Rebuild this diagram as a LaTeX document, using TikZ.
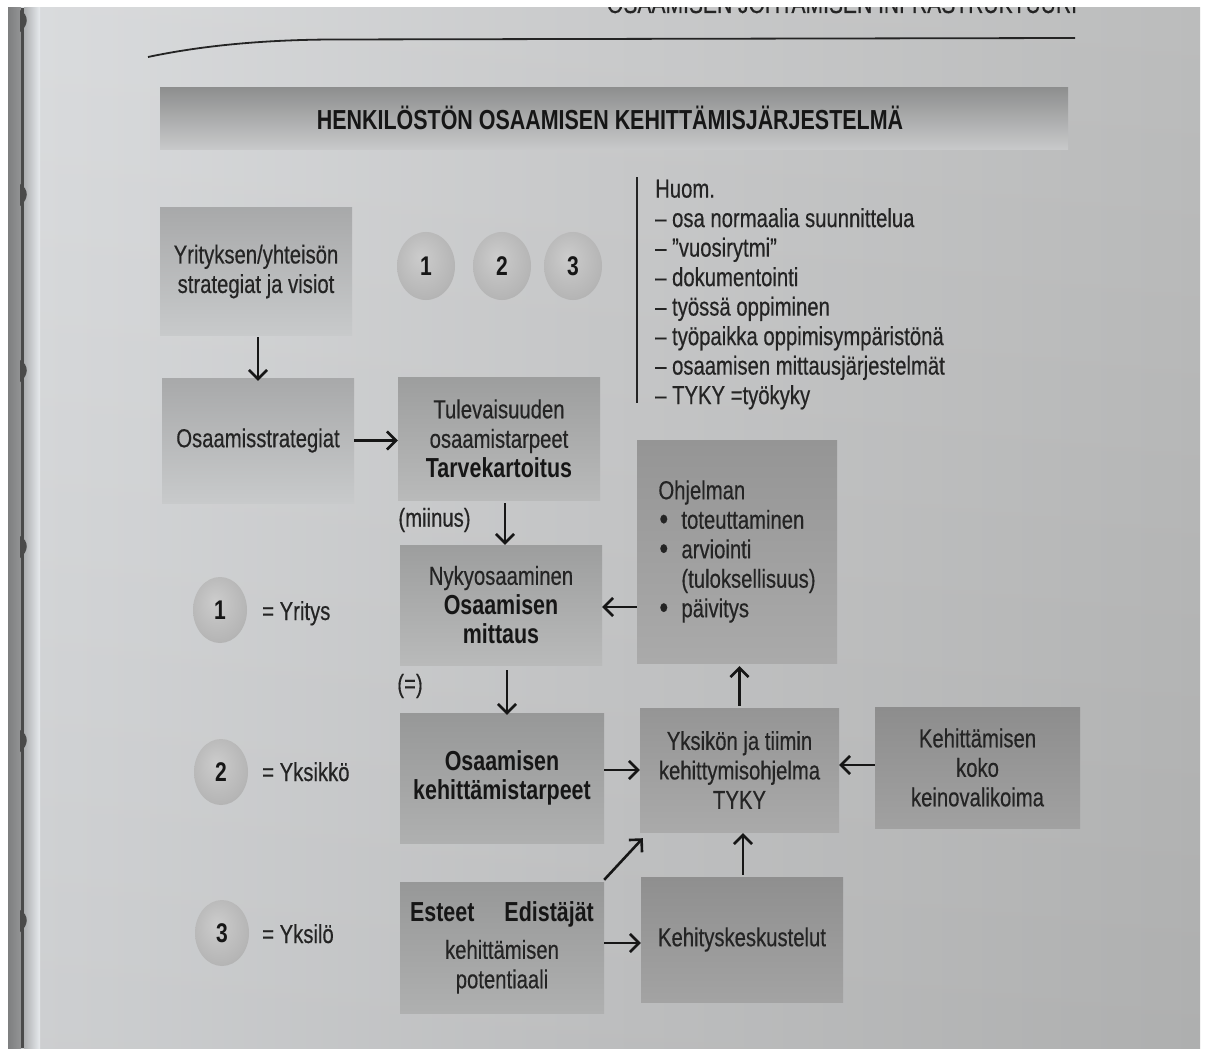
\documentclass[tikz,border=0pt]{standalone}
\usepackage{fontspec}
\setmainfont{Liberation Sans}[FakeStretch=0.78, UprightFeatures={FakeBold=0.4}]
\usetikzlibrary{arrows.meta,shapes.geometric}

% palette
\definecolor{ink}{HTML}{242424}
\definecolor{inkb}{HTML}{161616}
\definecolor{pg0}{HTML}{E7EAED}
\definecolor{pg1}{HTML}{D9DBDD}
\definecolor{pg2}{HTML}{C7C8C9}
\definecolor{pg3}{HTML}{B8B9B9}
\definecolor{pg4}{HTML}{A8A9A8}
\definecolor{spineA}{HTML}{7E7F80}
\definecolor{spineB}{HTML}{939495}
\definecolor{spineD}{HTML}{4A4A4A}
\definecolor{spineC}{HTML}{ADAFB1}
\definecolor{bantop}{HTML}{8E8F8F}
\definecolor{banmid}{HTML}{A6A7A7}
\definecolor{banbot}{HTML}{C9CACB}
\definecolor{cAt}{HTML}{A8A9AA}
\definecolor{cAb}{HTML}{C8CACB}
\definecolor{cBt}{HTML}{9D9E9E}
\definecolor{cBb}{HTML}{B9BABA}
\definecolor{cCt}{HTML}{979898}
\definecolor{cCb}{HTML}{AFB0B0}
\definecolor{cDt}{HTML}{959595}
\definecolor{cDb}{HTML}{AAAAAA}
\definecolor{cEt}{HTML}{8F8F8F}
\definecolor{cEb}{HTML}{A3A3A3}
\definecolor{cFt}{HTML}{8D8D8D}
\definecolor{cFb}{HTML}{A1A1A1}
\definecolor{ballin}{HTML}{CCCCCC}
\definecolor{ballmid}{HTML}{B6B6B6}
\definecolor{ballout}{HTML}{A0A0A0}

\newcommand\dgbody{\fontsize{26}{29.5}\selectfont}
\newcommand\dgb[1]{{\fontsize{27.5}{29.5}\selectfont\bfseries\color{inkb}#1}}
\newcommand\itm{\makebox[23pt][l]{\hspace*{1pt}\raisebox{-1pt}{\fontsize{32}{29}\selectfont\textbullet}}}

\pgfdeclarehorizontalshading{pagebg}{100bp}{color(0bp)=(pg0); color(25bp)=(pg1); color(50bp)=(pg2); color(75bp)=(pg3); color(100bp)=(pg4)}
\pgfdeclareradialshading{ballshade}{\pgfpoint{-5bp}{7bp}}{color(0bp)=(ballin); color(26bp)=(ballmid); color(44bp)=(ballout); color(50bp)=(ballout)}

\tikzset{
  panel/.style 2 args={rectangle, inner sep=0pt, top color=#1, bottom color=#2,
    text=ink, align=center, font=\dgbody},
  ballnode/.style={ellipse, inner sep=0pt, shading=ballshade,
    font=\fontsize{27}{30}\selectfont\bfseries, text=inkb},
  lbl/.style={inner sep=0pt, text=ink, font=\dgbody},
  arr/.style={draw=inkb, line width=2.6pt, -{Straight Barb[length=9pt,width=18pt]}},
}

\begin{document}
\begin{tikzpicture}[x=1pt,y=-1pt]
\useasboundingbox (0,0) rectangle (1205,1051);
\fill[white] (0,0) rectangle (1205,1051);

% the page
\shade[shading=pagebg] (8,8) rectangle (1200,1048);
\shade[top color=white, bottom color=black, opacity=0.05] (8,8) rectangle (1200,1048);

% binding edge
\shade[left color=spineA, right color=spineB] (8,8) rectangle (21,1048);
\fill[spineD] (21,8) rectangle (24,1048);
\shade[left color=spineC, right color=pg0] (24,8) rectangle (40,1048);
\foreach \yy in {22,196,372,548,742,922}
  \fill[spineD] (20,\yy-12) .. controls (29,\yy-7) and (29,\yy+3) .. (20,\yy+10) -- cycle;

% running head, cut by the top of the page
\begin{scope}
  \clip (8,8) rectangle (1200,60);
  \node[anchor=base, inner sep=0pt, text=ink, font=\fontsize{27}{30}\selectfont] (runhead) at (842,13)
    {OSAAMISEN JOHTAMISEN INFRASTRUKTUURI};
\end{scope}
\draw[draw=ink, line width=1.8pt] (148,57) .. controls (200,46) and (260,40) .. (330,39.5) -- (1075,38);

% title banner
\shade[top color=bantop, middle color=banmid, bottom color=banbot] (160,88) rectangle (1068,150);
\node[inner sep=0pt, text=inkb, font=\fontsize{27.5}{30}\selectfont\bfseries] (title) at (610,118)
  {HENKILÖSTÖN OSAAMISEN KEHITTÄMISJÄRJESTELMÄ};

% boxes
\node[panel={cAt}{cAb}, minimum width=192pt, minimum height=127pt] (yr) at (256,271.5)
  {Yrityksen/yhteisön\\strategiat ja visiot};
\node[panel={cAt}{cAb}, minimum width=192pt, minimum height=125pt] (os) at (258,440.5)
  {Osaamisstrategiat};
\node[panel={cBt}{cBb}, minimum width=202pt, minimum height=123pt] (tu) at (499,438.5)
  {Tulevaisuuden\\osaamistarpeet\\\dgb{Tarvekartoitus}};
\node[panel={cBt}{cBb}, minimum width=202pt, minimum height=120pt] (ny) at (501,605)
  {Nykyosaaminen\\\dgb{Osaamisen}\\\dgb{mittaus}};
\node[panel={cDt}{cDb}, minimum width=200pt, minimum height=223pt, align=left] (oh) at (737,551.5)
  {Ohjelman\\\itm toteuttaminen\\\itm arviointi\\\hspace*{23pt}(tuloksellisuus)\\\itm päivitys};
\node[panel={cCt}{cCb}, minimum width=204pt, minimum height=130pt] (ke) at (502,778)
  {\dgb{Osaamisen}\\\dgb{kehittämistarpeet}};
\node[panel={cDt}{cDb}, minimum width=199pt, minimum height=124pt] (yk) at (739.5,770)
  {Yksikön ja tiimin\\kehittymisohjelma\\TYKY};
\node[panel={cFt}{cFb}, minimum width=205pt, minimum height=121pt] (kk) at (977.5,767.5)
  {Kehittämisen\\koko\\keinovalikoima};
\node[panel={cCt}{cCb}, minimum width=204pt, minimum height=131pt] (es) at (502,947.5)
  {\dgb{Esteet\hspace{30pt}Edistäjät}\\[8pt]kehittämisen\\potentiaali};
\node[panel={cEt}{cEb}, minimum width=202pt, minimum height=125pt] (kh) at (742,939.5)
  {Kehityskeskustelut};

% level markers
\node[ballnode, minimum width=58pt, minimum height=68pt] (t1) at (426,266) {1};
\node[ballnode, minimum width=58pt, minimum height=68pt] (t2) at (502,266) {2};
\node[ballnode, minimum width=58pt, minimum height=68pt] (t3) at (573,266) {3};
\node[ballnode, minimum width=54pt, minimum height=66pt] (l1) at (220,610) {1};
\node[ballnode, minimum width=54pt, minimum height=66pt] (l2) at (221,772) {2};
\node[ballnode, minimum width=54pt, minimum height=66pt] (l3) at (222,933) {3};
\node[lbl, anchor=base west] (l1t) at (262,620) {= Yritys};
\node[lbl, anchor=base west] (l2t) at (262,781) {= Yksikkö};
\node[lbl, anchor=base west] (l3t) at (262,943) {= Yksilö};

% side notes
\node[lbl] (minus) at (434.5,520) {(miinus)};
\node[lbl] (equal) at (410,686) {(=)};
\node[lbl, anchor=north west, align=left] (huom) at (655,179.5)
  {Huom.\\– osa normaalia suunnittelua\\– ”vuosirytmi”\\– dokumentointi\\– työssä oppiminen\\– työpaikka oppimisympäristönä\\– osaamisen mittausjärjestelmät\\– TYKY =työkyky};
\draw[draw=ink, line width=1.4pt] ([shift={(-18pt,2pt)}]huom.north west) -- ([shift={(-18pt,7pt)}]huom.south west);

% connectors
\draw[arr] ([xshift=2pt,yshift=-2pt]yr.south) -- ([yshift=-3pt]os.north);
\draw[arr] (os.east) -- (os.east -| tu.west);
\draw[arr] ([xshift=6pt,yshift=-3pt]tu.south) -- ([xshift=4pt]ny.north);
\coordinate (ohl) at ([yshift=-55.5pt]oh.west);
\draw[arr] (ohl) -- (ohl -| ny.east);
\draw[arr] ([xshift=6pt,yshift=-5pt]ny.south) -- ([xshift=5pt,yshift=-2pt]ke.north);
\coordinate (ker) at ([yshift=8pt]ke.east);
\draw[arr] (ker) -- (ker -| yk.west);
\coordinate (kkl) at ([yshift=2.5pt]kk.west);
\draw[arr] (kkl) -- (kkl -| yk.east);
\draw[arr] ([yshift=2pt]yk.north) -- ([xshift=2.5pt,yshift=-3pt]oh.south);
\draw[arr] ([xshift=1pt,yshift=2pt]kh.north) -- ([xshift=3.5pt,yshift=-1pt]yk.south);
\draw[arr] ([yshift=2pt]es.north east) -- ([xshift=3pt,yshift=-6pt]yk.south west);
\coordinate (esr) at ([yshift=4.5pt]es.east);
\draw[arr] (esr) -- (esr -| kh.west);
\end{tikzpicture}
\end{document}
